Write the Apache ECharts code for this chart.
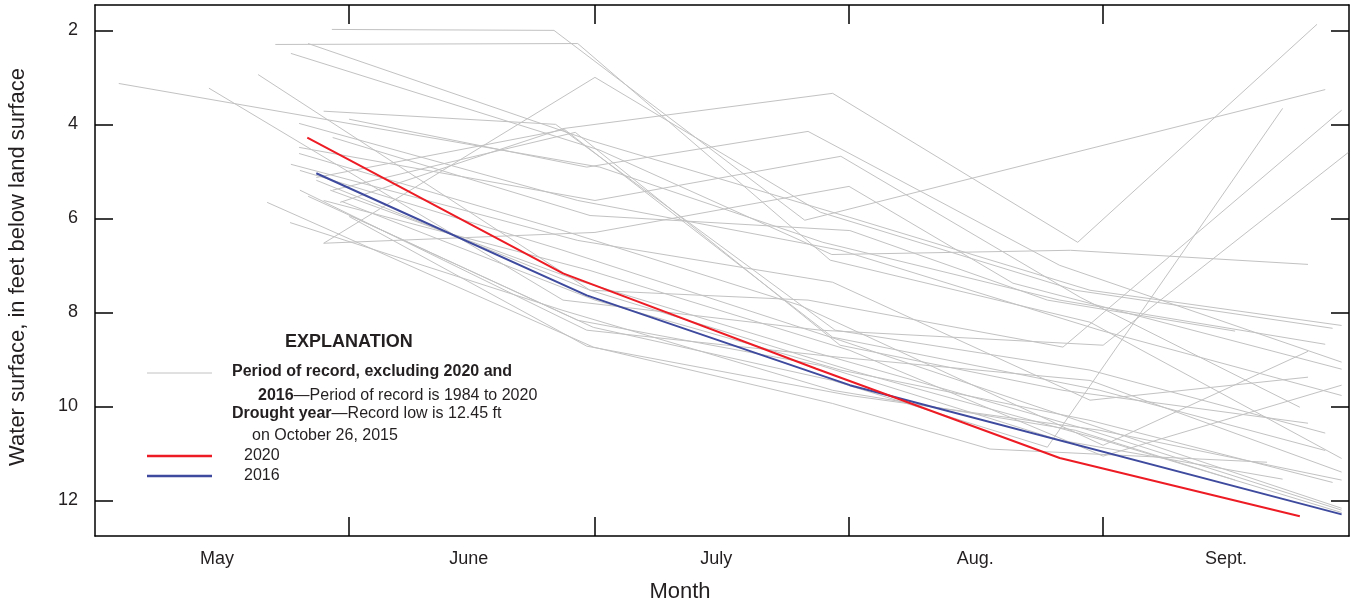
<!DOCTYPE html>
<html><head><meta charset="utf-8">
<script src="https://cdn.jsdelivr.net/npm/echarts@6/dist/echarts.min.js"></script>
<style>html,body{margin:0;padding:0;background:#fff}#c{width:1356px;height:610px}</style>
</head><body><div id="c"></div>
<script>
// x = days after May 1; y = water surface, feet below land surface
const monthNames = ['May', 'June', 'July', 'Aug.', 'Sept.'];
const monthLabelDays = [14.9, 45.6, 75.8, 107.4, 138.0];
const monthStartDays = [31, 61, 92, 123];
const depthTicks = [2, 4, 6, 8, 10, 12];

const year2020 = [[25.9,4.28],[57.1,7.17],[88.0,9.20],[117.7,11.10],[147.0,12.34]];
const year2016 = [[27.0,5.04],[60.0,7.64],[92.1,9.55],[152.1,12.30]];

const recordYears = [
  [[28.9,1.98],[56.0,2.00],[86.6,6.04],[150.1,3.26]],
  [[22.0,2.30],[58.9,2.28],[89.7,6.89],[121.4,8.21],[152.1,11.11]],
  [[27.9,6.53],[61.0,3.00],[88.5,5.87],[119.6,7.53],[151.0,8.34]],
  [[29.9,5.66],[57.1,4.09],[90.0,3.34],[119.9,6.51],[149.1,1.87]],
  [[27.9,3.72],[56.2,4.00],[90.3,8.38],[121.4,9.23],[150.1,10.57]],
  [[31.0,3.89],[60.0,4.91],[87.0,4.15],[117.7,7.00],[152.1,9.06]],
  [[24.9,4.49],[61.0,5.62],[91.0,4.68],[120.2,7.68],[147.0,10.02]],
  [[27.9,6.53],[61.0,6.30],[92.0,5.32],[112.0,7.38],[152.1,9.21]],
  [[2.9,3.13],[61.6,4.91],[88.8,6.51],[117.7,7.74],[150.1,8.68]],
  [[23.9,2.49],[61.6,4.55],[89.9,6.77],[119.0,6.68],[148.0,6.98]],
  [[26.0,2.28],[60.4,4.34],[92.1,5.98],[121.4,7.53],[152.1,8.28]],
  [[19.9,2.94],[60.4,7.53],[87.0,7.74],[118.1,8.74],[152.1,3.70]],
  [[13.9,3.23],[57.1,7.74],[88.5,8.38],[123.0,8.70],[152.9,4.60]],
  [[24.9,3.98],[58.9,5.62],[91.0,6.68],[122.6,8.38],[152.1,9.77]],
  [[29.0,4.28],[60.4,5.94],[92.1,6.26],[116.2,7.74],[139.1,8.40]],
  [[24.9,4.62],[57.1,6.26],[86.0,7.85],[123.0,10.83],[148.0,8.83]],
  [[23.9,4.85],[58.9,6.47],[90.0,7.36],[121.4,9.87],[148.0,9.38]],
  [[27.0,5.13],[57.3,4.11],[90.0,8.53],[122.6,9.66],[150.1,10.94]],
  [[29.0,5.40],[58.6,4.17],[90.9,8.70],[118.1,9.66],[148.0,10.36]],
  [[25.0,5.40],[60.0,8.38],[91.0,8.96],[121.4,9.45],[152.1,11.40]],
  [[21.0,5.66],[60.8,8.74],[90.0,9.94],[109.2,10.91],[143.0,11.19]],
  [[26.0,5.53],[60.8,8.32],[90.0,9.45],[116.2,10.87],[144.9,3.66]],
  [[31.0,5.96],[60.0,8.72],[92.1,9.77],[122.6,10.51],[152.1,11.57]],
  [[30.1,5.64],[61.0,7.74],[91.0,9.23],[121.4,10.30],[151.0,11.62]],
  [[31.1,5.94],[58.9,8.17],[88.5,9.13],[117.7,10.72],[144.9,11.55]],
  [[23.8,6.09],[57.1,7.96],[90.0,9.66],[119.6,10.51],[139.1,11.57]],
  [[27.0,5.19],[60.4,7.53],[92.1,9.23],[123.0,10.72],[152.1,12.26]],
  [[28.7,5.40],[58.9,7.32],[87.0,8.81],[121.4,10.51],[152.1,12.21]],
  [[25.0,4.98],[57.1,6.68],[91.0,8.60],[119.9,10.30],[152.1,12.17]],
  [[27.9,5.62],[60.4,7.11],[92.1,8.81],[123.0,11.06],[152.1,9.55]]
];

const NARROW = "'Liberation Sans Narrow','Arial Narrow','Liberation Sans',sans-serif";
const REG = "'Liberation Sans','Noto Sans',sans-serif";
const TXT = '#231f20';
const GREY = '#c2c2c2';
const RED = '#ed1c24';
const BLUE = '#3e4a9e';

function monthLabel(v) {
  let best = 0, bd = 1e9;
  monthLabelDays.forEach((d, i) => { const e = Math.abs(d - v); if (e < bd) { bd = e; best = i; } });
  return monthNames[best];
}

const axisLineStyle = { show: true, onZero: false, lineStyle: { color: '#000', width: 1.5 } };
const tickStyle = { color: '#000', width: 1.5 };

const series = recordYears.map((d, i) => ({
  type: 'line', name: 'rec' + i, data: d, showSymbol: false, symbol: 'none', silent: true,
  lineStyle: { color: GREY, width: 1 }, z: 2
}));
series.push({ type: 'line', name: '2016', data: year2016, symbol: 'none', silent: true,
  lineStyle: { color: BLUE, width: 2 }, z: 4 });
series.push({ type: 'line', name: '2020', data: year2020, symbol: 'none', silent: true,
  lineStyle: { color: RED, width: 2 }, z: 5 });

const chart = echarts.init(document.getElementById('c'));
chart.setOption({
  animation: false,
  backgroundColor: '#fff',
  grid: { left: 95, top: 5, right: 7, bottom: 74 },
  xAxis: [
    { type: 'value', min: 0, max: 153, position: 'bottom',
      axisLine: axisLineStyle,
      axisTick: { show: true, inside: true, length: 19, customValues: monthStartDays, lineStyle: tickStyle },
      axisLabel: { customValues: monthLabelDays, formatter: monthLabel, margin: 14,
        fontSize: 18, color: TXT, fontFamily: NARROW },
      splitLine: { show: false } },
    { type: 'value', min: 0, max: 153, position: 'top',
      axisLine: axisLineStyle,
      axisTick: { show: true, inside: true, length: 19, customValues: monthStartDays, lineStyle: tickStyle },
      axisLabel: { show: false }, splitLine: { show: false } }
  ],
  yAxis: [
    { type: 'value', inverse: true, min: 1.46, max: 12.76, position: 'left',
      axisLine: axisLineStyle,
      axisTick: { show: true, inside: true, length: 18, customValues: depthTicks, lineStyle: tickStyle },
      axisLabel: { customValues: depthTicks, margin: 17, fontSize: 18, color: TXT, fontFamily: NARROW },
      splitLine: { show: false } },
    { type: 'value', inverse: true, min: 1.46, max: 12.76, position: 'right',
      axisLine: axisLineStyle,
      axisTick: { show: true, inside: true, length: 18, customValues: depthTicks, lineStyle: tickStyle },
      axisLabel: { show: false }, splitLine: { show: false } }
  ],
  series: series,
  graphic: [
    { type: 'text', x: 18, y: 267, rotation: Math.PI / 2,
      style: { text: 'Water surface, in feet below land surface', font: '22px ' + REG, fill: TXT,
        textAlign: 'center', textVerticalAlign: 'middle' } },
    { type: 'text', x: 680, y: 592,
      style: { text: 'Month', font: '22px ' + REG, fill: TXT, textAlign: 'center', textVerticalAlign: 'middle' } },
    { type: 'text', x: 285, y: 342,
      style: { text: 'EXPLANATION', font: 'bold 18px ' + NARROW, fill: TXT, textVerticalAlign: 'middle' } },
    { type: 'line', shape: { x1: 147, y1: 373, x2: 212, y2: 373 }, style: { stroke: GREY, lineWidth: 1 } },
    { type: 'text', x: 232, y: 372,
      style: { text: 'Period of record, excluding 2020 and', font: 'bold 16px ' + NARROW, fill: TXT, textVerticalAlign: 'middle' } },
    { type: 'text', x: 258, y: 396,
      style: { text: '{b|2016}—Period of record is 1984 to 2020', font: '16px ' + NARROW, fill: TXT,
        textVerticalAlign: 'middle',
        rich: { b: { fontWeight: 'bold', fontSize: 16, fontFamily: NARROW, fill: TXT } } } },
    { type: 'text', x: 232, y: 414,
      style: { text: '{b|Drought year}—Record low is 12.45 ft', font: '16px ' + NARROW, fill: TXT,
        textVerticalAlign: 'middle',
        rich: { b: { fontWeight: 'bold', fontSize: 16, fontFamily: NARROW, fill: TXT } } } },
    { type: 'text', x: 252, y: 436,
      style: { text: 'on October 26, 2015', font: '16px ' + NARROW, fill: TXT, textVerticalAlign: 'middle' } },
    { type: 'line', shape: { x1: 147, y1: 456, x2: 212, y2: 456 }, style: { stroke: RED, lineWidth: 2.5 } },
    { type: 'text', x: 244, y: 456,
      style: { text: '2020', font: '16px ' + NARROW, fill: TXT, textVerticalAlign: 'middle' } },
    { type: 'line', shape: { x1: 147, y1: 476, x2: 212, y2: 476 }, style: { stroke: BLUE, lineWidth: 2.5 } },
    { type: 'text', x: 244, y: 476,
      style: { text: '2016', font: '16px ' + NARROW, fill: TXT, textVerticalAlign: 'middle' } }
  ]
});
</script>
</body></html>
